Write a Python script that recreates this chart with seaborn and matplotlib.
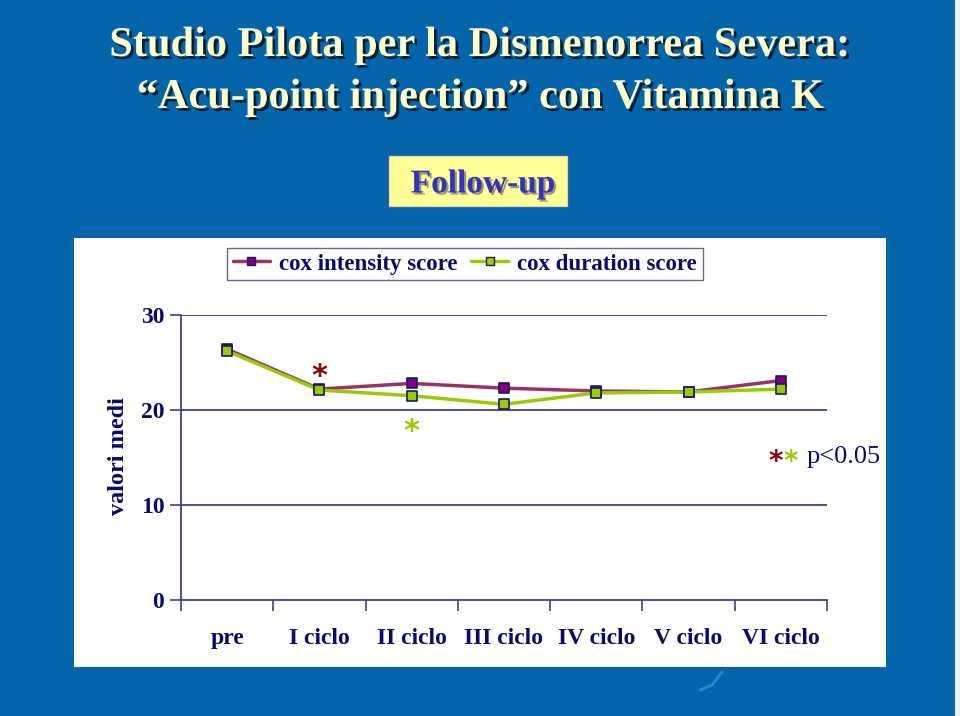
import matplotlib
matplotlib.use("Agg")
import matplotlib.pyplot as plt
import matplotlib.patheffects as pe
from matplotlib.patches import Rectangle
from matplotlib.lines import Line2D
import seaborn as sns
import pandas as pd
import numpy as np

categories = ["pre", "I ciclo", "II ciclo", "III ciclo", "IV ciclo", "V ciclo", "VI ciclo"]
intensity = [26.4, 22.2, 22.8, 22.3, 22.0, 21.9, 23.1]
duration = [26.2, 22.1, 21.5, 20.6, 21.8, 21.9, 22.2]
series_names = ["cox intensity score", "cox duration score"]
y_ticks = [0, 10, 20, 30]

df = pd.DataFrame({
    "ciclo": categories * 2,
    "pos": list(range(len(categories))) * 2,
    "valore": intensity + duration,
    "serie": [series_names[0]] * len(categories) + [series_names[1]] * len(categories),
})

sns.set_theme(style="white")
plt.rcParams["font.family"] = ["Liberation Serif", "DejaVu Serif"]

W, H = 960, 716
fig = plt.figure(figsize=(W / 100, H / 100), dpi=100)
fig.patch.set_facecolor("#0565AB")

def fx(x): return x / W
def fy(y): return 1 - y / H

# light right edge strip
fig.patches.append(Rectangle((fx(955), 0), fx(5), 1, transform=fig.transFigure,
                             facecolor="#E8EEF5", edgecolor="none", zorder=0))
# white chart panel
fig.patches.append(Rectangle((fx(74), fy(667)), fx(886 - 74), (667 - 238) / H,
                             transform=fig.transFigure, facecolor="white",
                             edgecolor="none", zorder=0))

NAVY = "#0A0A6E"
AXC = "#404090"
title_fx = [pe.SimplePatchShadow(offset=(2, -2), shadow_rgbFace="black", alpha=0.7), pe.Normal()]
fig.text(0.5, fy(46), "Studio Pilota per la Dismenorrea Severa:", ha="center", va="center",
         fontsize=30.5, fontweight="bold", color="#FFFFCC", path_effects=title_fx, zorder=3)
fig.text(0.5, fy(98), "\u201cAcu-point injection\u201d con Vitamina K", ha="center", va="center",
         fontsize=30.5, fontweight="bold", color="#FFFFCC", path_effects=title_fx, zorder=3)

# Follow-up box
fig.patches.append(Rectangle((fx(388), fy(207)), fx(568 - 388), (207 - 155) / H,
                             transform=fig.transFigure, facecolor="#FFFF99",
                             edgecolor="#3366AA", linewidth=1, zorder=1))
fig.text(fx(483), fy(184), "Follow-up", ha="center", va="center", fontsize=24,
         fontweight="bold", color="#3333BB", zorder=3,
         path_effects=[pe.SimplePatchShadow(offset=(1.5, -1.5), shadow_rgbFace="#555555", alpha=0.6), pe.Normal()])

ax = fig.add_axes([fx(181), fy(600), fx(827 - 181), (600 - 315) / H])
ax.set_zorder(2)
ax.set_facecolor("none")
ax.patch.set_alpha(0)

palette = {series_names[0]: "#993366", series_names[1]: "#99CC00"}
sns.lineplot(data=df, x="pos", y="valore", hue="serie", palette=palette, ax=ax,
             linewidth=2.5, legend=False, zorder=3)
mfaces = ["#800080", "#99CC00"]
for vals, fc in zip([intensity, duration], mfaces):
    ax.scatter(range(len(categories)), vals, marker="s", s=45, facecolor=fc,
               edgecolor="#1A1A60", linewidth=1.2, zorder=4)

ax.set_xlim(-0.5, len(categories) - 0.5)
ax.set_ylim(0, 30)
ax.set_yticks(y_ticks)
ax.set_yticklabels([str(t) for t in y_ticks], fontsize=17, fontweight="bold", color=NAVY)
ax.set_xticks(range(len(categories)))
ax.set_xticklabels(categories, fontsize=17, fontweight="bold", color=NAVY)
ax.set_xticks(np.arange(-0.5, len(categories)), minor=True)
ax.tick_params(axis="x", which="major", bottom=False, length=0, pad=20)
ax.tick_params(axis="x", which="minor", bottom=True, length=8, width=1.2, color=AXC,
               direction="out")
ax.tick_params(axis="y", which="major", left=True, length=8, width=1.2, color=AXC,
               direction="out", pad=4)
for y in y_ticks[1:]:
    ax.axhline(y, color=AXC, linewidth=1.3, zorder=1)
for s in ["top", "right"]:
    ax.spines[s].set_visible(False)
for s in ["left", "bottom"]:
    ax.spines[s].set_color(AXC)
    ax.spines[s].set_linewidth(1.3)
ax.set_xlabel("")
ax.set_ylabel("")
ax.grid(False)

fig.text(fx(118), fy(456), "valori medi", rotation=90, ha="center", va="center",
         fontsize=17.5, fontweight="bold", color=NAVY, zorder=3)

# significance asterisks
ax.text(1, 23.5, "*", ha="center", va="center", fontsize=22, color="#8B0000",
        fontweight="bold", family="DejaVu Sans")
ax.text(2, 17.7, "*", ha="center", va="center", fontsize=22, color="#99CC00",
        fontweight="bold", family="DejaVu Sans")
fig.text(fx(776), fy(462), "*", ha="center", va="center", fontsize=20, color="#8B0000",
         fontweight="bold", family="DejaVu Sans", zorder=3)
fig.text(fx(791), fy(462), "*", ha="center", va="center", fontsize=20, color="#99CC00",
         fontweight="bold", family="DejaVu Sans", zorder=3)
fig.text(fx(807), fy(457), "p<0.05", ha="left", va="center", fontsize=19, color=NAVY, zorder=3)

# legend
handles = [Line2D([], [], color=palette[n], lw=2.5, marker="s", markersize=6,
                  markerfacecolor=fc, markeredgecolor="#1A1A60")
           for n, fc in zip(series_names, mfaces)]
leg = fig.legend(handles, series_names, loc="center", bbox_to_anchor=(fx(465), fy(264)),
                 ncol=2, frameon=True, fancybox=False, handlelength=1.6, handletextpad=0.4,
                 columnspacing=0.6, borderpad=0.25,
                 prop={"family": "Liberation Serif", "weight": "bold", "size": 16.5})
leg.set_zorder(3)
leg.get_frame().set_edgecolor("#404080")
leg.get_frame().set_linewidth(1.0)
for t in leg.get_texts():
    t.set_color(NAVY)

# decorative stroke
fig.add_artist(Line2D([fx(700), fx(712), fx(722)], [fy(690), fy(685), fy(672)],
                      transform=fig.transFigure, color="#3A8FE0", lw=2, alpha=0.8))

fig.savefig("out.png", dpi=100, facecolor=fig.get_facecolor())
